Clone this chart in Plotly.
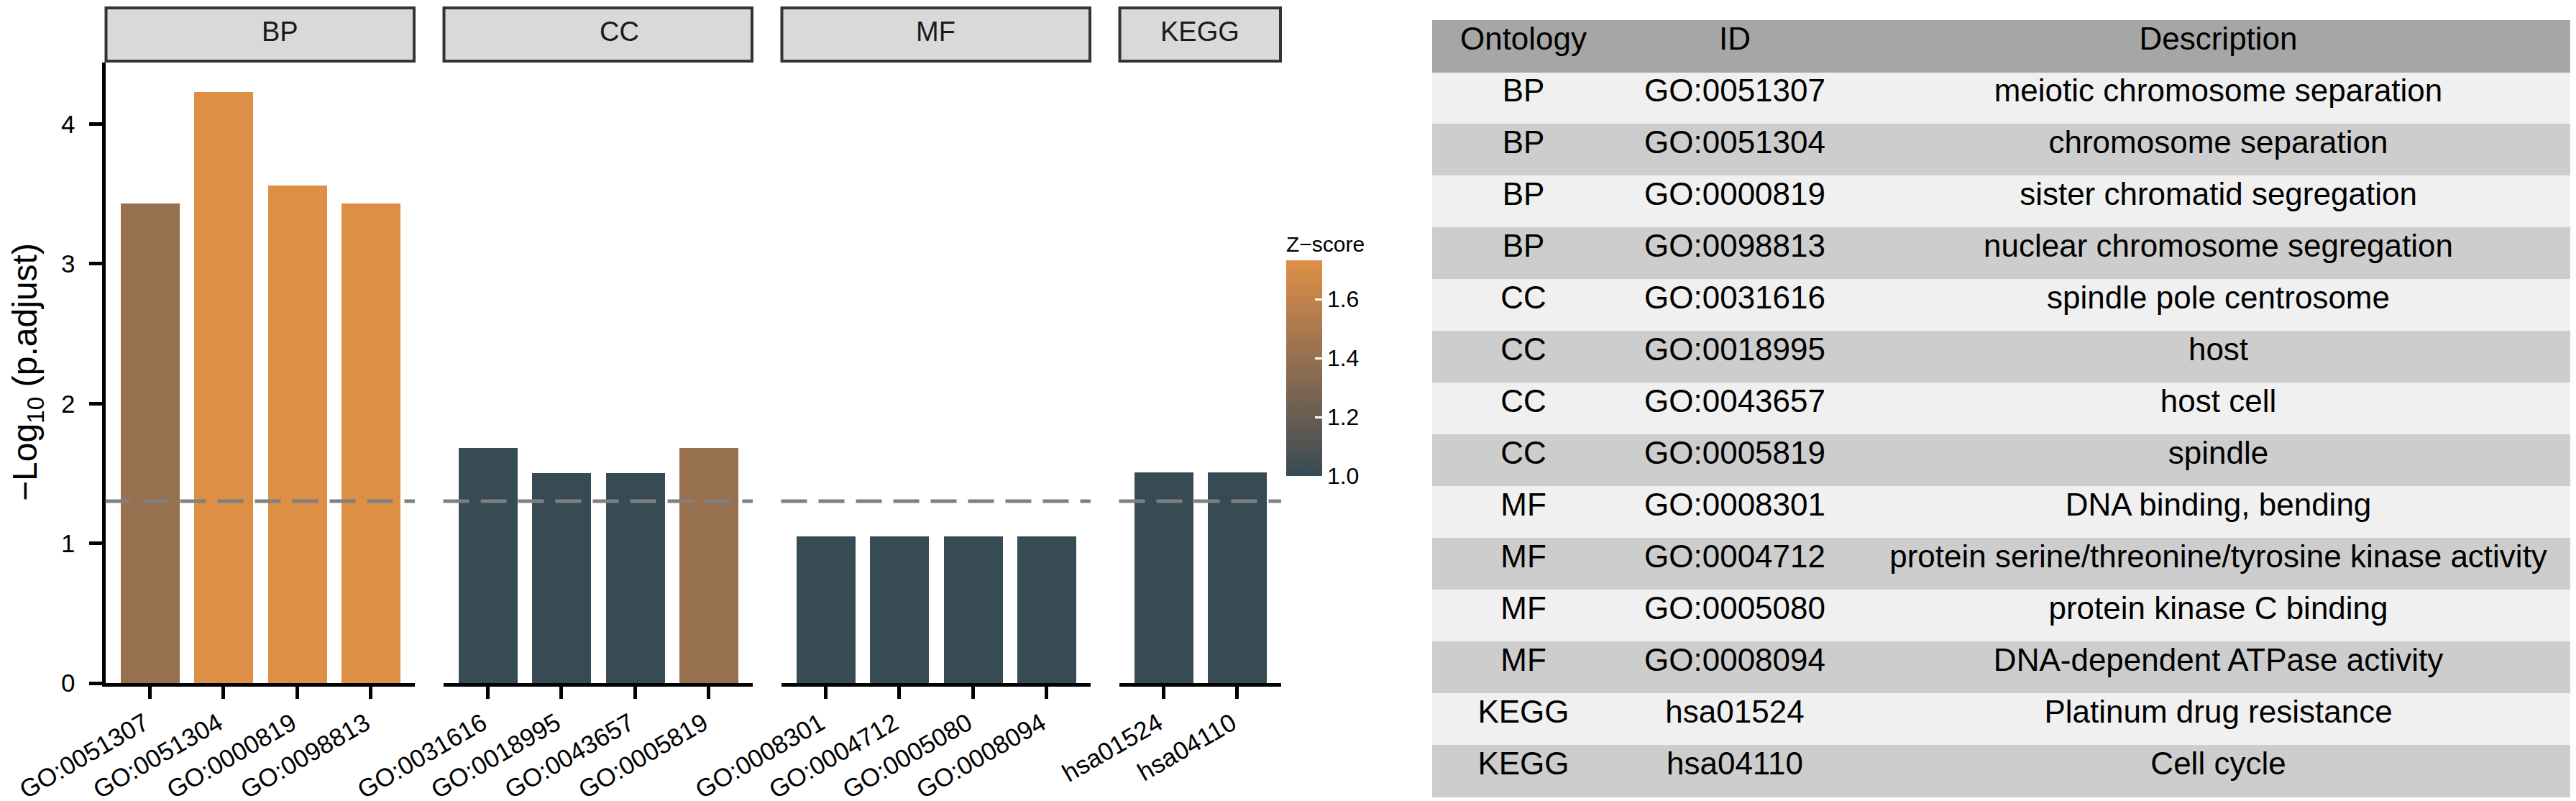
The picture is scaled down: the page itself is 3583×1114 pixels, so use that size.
import numpy as np
import plotly.graph_objects as go

# enrichment results, one row per term
ONTOLOGY = ["BP", "BP", "BP", "BP", "CC", "CC", "CC", "CC",
            "MF", "MF", "MF", "MF", "KEGG", "KEGG"]
TERM_ID = ["GO:0051307", "GO:0051304", "GO:0000819", "GO:0098813",
           "GO:0031616", "GO:0018995", "GO:0043657", "GO:0005819",
           "GO:0008301", "GO:0004712", "GO:0005080", "GO:0008094",
           "hsa01524", "hsa04110"]
DESCRIPTION = ["meiotic chromosome separation", "chromosome separation",
               "sister chromatid segregation", "nuclear chromosome segregation",
               "spindle pole centrosome", "host", "host cell", "spindle",
               "DNA binding, bending",
               "protein serine/threonine/tyrosine kinase activity",
               "protein kinase C binding", "DNA-dependent ATPase activity",
               "Platinum drug resistance", "Cell cycle"]
NEG_LOG_P = [3.43, 4.23, 3.56, 3.43,
             1.68, 1.50, 1.50, 1.68,
             1.05, 1.05, 1.05, 1.05,
             1.51, 1.51]
ZSCORE = [1.414, 1.732, 1.732, 1.732,
          1.0, 1.0, 1.0, 1.414,
          1.0, 1.0, 1.0, 1.0,
          1.0, 1.0]
PANELS = ["BP", "CC", "MF", "KEGG"]
THRESHOLD = -np.log10(0.05)
Z_TICKS = [1.0, 1.2, 1.4, 1.6]
Y_TICKS = [0, 1, 2, 3, 4]

W, H = 3583, 1114
FONT = "Liberation Sans, Arial, sans-serif"
LOW, HIGH = "#364B53", "#DE8F46"


# ggplot-like gradient: interpolate in Lab space
def _to_lab(hexc):
    rgb = np.array([int(hexc[i:i + 2], 16) for i in (1, 3, 5)]) / 255
    lin = np.where(rgb > 0.04045, ((rgb + 0.055) / 1.055) ** 2.4, rgb / 12.92)
    m = np.array([[0.4124, 0.3576, 0.1805], [0.2126, 0.7152, 0.0722], [0.0193, 0.1192, 0.9505]])
    xyz = m @ lin / np.array([0.95047, 1.0, 1.08883])
    f = np.where(xyz > 0.008856, np.cbrt(xyz), 7.787 * xyz + 16 / 116)
    return np.array([116 * f[1] - 16, 500 * (f[0] - f[1]), 200 * (f[1] - f[2])])


def _from_lab(lab):
    fy = (lab[0] + 16) / 116
    f = np.array([fy + lab[1] / 500, fy, fy - lab[2] / 200])
    xyz = np.where(f ** 3 > 0.008856, f ** 3, (f - 16 / 116) / 7.787) * np.array([0.95047, 1.0, 1.08883])
    mi = np.array([[3.2406, -1.5372, -0.4986], [-0.9689, 1.8758, 0.0415], [0.0557, -0.2040, 1.0570]])
    lin = np.clip(mi @ xyz, 0, 1)
    rgb = np.where(lin > 0.0031308, 1.055 * lin ** (1 / 2.4) - 0.055, 12.92 * lin)
    r, g, b = (np.clip(rgb, 0, 1) * 255).round().astype(int)
    return f"rgb({r},{g},{b})"


lab_lo, lab_hi = _to_lab(LOW), _to_lab(HIGH)
colorscale = [[t, _from_lab(lab_lo + (lab_hi - lab_lo) * t)] for t in np.linspace(0, 1, 21)]


def px(x):
    return x / W


def py(y):
    return 1 - y / H


# panel geometry (pixels)
unit = 102.5
gap = 39.5
left = 138.5
top, bottom = 79, 942

fig = go.Figure()
shapes, annotations = [], []
x0 = left
for i, ont in enumerate(PANELS):
    idx = [k for k, o in enumerate(ONTOLOGY) if o == ont]
    n = len(idx)
    x1 = x0 + (n + 0.2) * unit
    sfx = "" if i == 0 else str(i + 1)
    fig.add_trace(go.Bar(
        x=[TERM_ID[k] for k in idx],
        y=[NEG_LOG_P[k] for k in idx],
        marker=dict(color=[ZSCORE[k] for k in idx], coloraxis="coloraxis", line_width=0),
        width=0.8,
        xaxis="x" + sfx, yaxis="y" + sfx,
        showlegend=False,
    ))
    fig.update_layout(**{
        "xaxis" + sfx: dict(
            domain=[px(x0), px(x1)], anchor="y" + sfx, type="category",
            range=[-0.6, n - 0.4], showline=True, linewidth=5, linecolor="black",
            ticks="outside", ticklen=17, tickwidth=5, tickcolor="black",
            tickangle=-30, tickfont=dict(size=35, color="black"),
            ticklabelshift=-7,
            showgrid=False, zeroline=False, automargin=False,
        ),
        "yaxis" + sfx: dict(
            domain=[py(bottom), py(top)], anchor="x" + sfx, range=[0, 4.44],
            showgrid=False, zeroline=False, automargin=False,
            showline=(i == 0), linewidth=5, linecolor="black",
            ticks="outside" if i == 0 else "", ticklen=18, tickwidth=5, tickcolor="black",
            tickvals=Y_TICKS, showticklabels=(i == 0), ticklabelstandoff=12,
            tickfont=dict(size=35, color="black"),
        ),
    })
    # significance cut-off
    shapes.append(dict(type="line", xref=f"x{sfx} domain", x0=0, x1=1,
                       yref="y" + sfx, y0=THRESHOLD, y1=THRESHOLD,
                       line=dict(color="#808080", width=5, dash="36px,16px")))
    # facet strip
    shapes.append(dict(type="rect", xref="paper", yref="paper",
                       x0=px(x0 + 1), x1=px(x1 - 1), y0=py(77), y1=py(3),
                       fillcolor="#D9D9D9", line=dict(color="#333333", width=4)))
    annotations.append(dict(text=ont, xref="paper", yref="paper",
                            x=px((x0 + x1) / 2), y=py(36), yanchor="middle", showarrow=False,
                            font=dict(size=38, color="#1A1A1A")))
    x0 = x1 + gap

annotations.append(dict(text="\u2212Log<sub>10</sub> (p.adjust)", xref="paper", yref="paper",
                        x=px(30), y=py(510), xanchor="center", yanchor="middle",
                        textangle=-90, showarrow=False,
                        font=dict(size=48, color="black")))

# term table on the right
n_rows = len(TERM_ID)
row_fill = ["#F0F0F0" if r % 2 == 0 else "#CDCDCD" for r in range(n_rows)]
fig.add_trace(go.Table(
    domain=dict(x=[px(1984), 1], y=[py(1110), py(20)]),
    columnwidth=[254, 334, 1011],
    header=dict(values=["Ontology", "ID", "Description"],
                fill_color="#A6A6A6", line=dict(color="#A6A6A6", width=1),
                align="center", height=72, font=dict(size=44, color="black", family=FONT)),
    cells=dict(values=[ONTOLOGY, TERM_ID, DESCRIPTION],
               fill_color=[row_fill] * 3, line=dict(color=[row_fill] * 3, width=1),
               align="center", height=72, font=dict(size=44, color="black", family=FONT)),
))

fig.update_layout(
    width=W, height=H,
    margin=dict(l=0, r=0, t=0, b=0, autoexpand=False),
    paper_bgcolor="white", plot_bgcolor="white",
    font=dict(family=FONT, color="black"),
    bargap=0,
    shapes=shapes, annotations=annotations,
    coloraxis=dict(
        colorscale=colorscale, cmin=1.0, cmax=1.732,
        colorbar=dict(
            x=px(1781), xanchor="left", y=py(654), yanchor="bottom",
            len=338, lenmode="pixels", thickness=50, thicknessmode="pixels",
            outlinewidth=0, xpad=0, ypad=0,
            ticks="inside", tickcolor="white", ticklen=10, tickwidth=3,
            tickvals=Z_TICKS, ticktext=[f"{v:.1f}" for v in Z_TICKS],
            tickfont=dict(size=32, color="black"),
            title=dict(text="Z\u2212score", side="top", font=dict(size=30, color="black")),
        ),
    ),
)

fig.write_html("out.html")
